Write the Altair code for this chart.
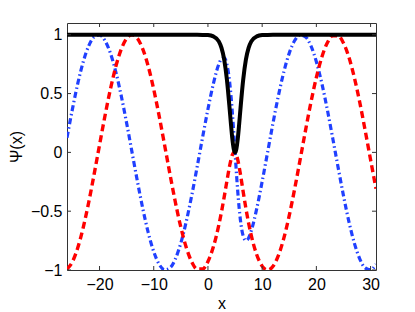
import altair as alt
import pandas as pd

x_vals = [-26, -25, -24, -23, -22, -21, -20, -19, -18, -17, -16, -15, -14, -13, -12,
          -11, -10, -9, -8, -7, -6, -5, -4, -3, -2, -1, 0, 1, 2, 2.5, 3, 3.5, 4,
          4.25, 4.5, 4.75, 5, 5.25, 5.5, 5.75, 6, 6.5, 7, 7.5, 8, 9, 10, 11, 12, 13,
          14, 15, 16, 17, 18, 19, 20, 21, 22, 23, 24, 25, 26, 27, 28, 29, 30, 31]

black_vals = [1.0, 1.0, 1.0, 1.0, 1.0, 1.0, 1.0, 1.0, 1.0, 1.0, 1.0, 1.0, 1.0, 1.0, 1.0,
              1.0, 1.0, 1.0, 1.0, 1.0, 1.0, 1.0, 1.0, 1.0, 1.0, 0.999, 0.997, 0.986, 0.944, 0.889, 0.789, 0.618, 0.371,
              0.236, 0.115, 0.031, 0.0, 0.031, 0.115, 0.236, 0.371, 0.618, 0.789, 0.889, 0.944, 0.986, 0.997, 0.999, 1.0, 1.0,
              1.0, 1.0, 1.0, 1.0, 1.0, 1.0, 1.0, 1.0, 1.0, 1.0, 1.0, 1.0, 1.0, 1.0, 1.0, 1.0, 1.0, 1.0]

red_vals = [-0.992, -0.930, -0.809, -0.637, -0.426, -0.187, 0.063, 0.309, 0.536, 0.729, 0.876, 0.969, 1.0, 0.969, 0.876,
            0.729, 0.536, 0.309, 0.063, -0.187, -0.426, -0.637, -0.809, -0.930, -0.992, -0.992, -0.928, -0.803, -0.619, -0.505, -0.378, -0.243, -0.114,
            -0.061, -0.021, 0.0, 0.0, -0.022, -0.064, -0.121, -0.188, -0.335, -0.476, -0.601, -0.708, -0.870, -0.967, -1.0, -0.969, -0.876,
            -0.729, -0.536, -0.309, -0.063, 0.187, 0.426, 0.637, 0.809, 0.930, 0.992, 0.992, 0.930, 0.809, 0.637, 0.426, 0.187, -0.063, -0.309]

blue_vals = [0.125, 0.368, 0.588, 0.771, 0.905, 0.982, 0.998, 0.951, 0.844, 0.685, 0.482, 0.249, 0.0, -0.249, -0.482,
             -0.685, -0.844, -0.951, -0.998, -0.982, -0.905, -0.771, -0.588, -0.368, -0.125, 0.125, 0.367, 0.584, 0.749, 0.796, 0.804, 0.747, 0.598,
             0.482, 0.339, 0.175, 0.0, -0.174, -0.333, -0.470, -0.579, -0.711, -0.750, -0.727, -0.665, -0.478, -0.248, 0.0, 0.249, 0.482,
             0.685, 0.844, 0.951, 0.998, 0.982, 0.905, 0.771, 0.588, 0.368, 0.125, -0.125, -0.368, -0.588, -0.771, -0.905, -0.982, -0.998, -0.951]

x_ticks = [-20, -10, 0, 10, 20, 30]
y_ticks = [-1, -0.5, 0, 0.5, 1]

W, H = 309, 247
FONT = "Liberation Sans"

df = pd.DataFrame({"x": x_vals, "black": black_vals, "red": red_vals, "blue": blue_vals})

xs = alt.Scale(domain=[-26, 31], nice=False, zero=False)
ys = alt.Scale(domain=[-1, 1.1], nice=False, zero=False)

xaxis = alt.Axis(values=x_ticks, format="~r", ticks=False, domain=False, grid=False, labelFont=FONT,
                 labelFontSize=16, labelColor="black", labelPadding=6, title="x",
                 titleFont=FONT, titleFontSize=16, titleFontWeight="normal", titleColor="black",
                 titlePadding=3)
yaxis = alt.Axis(values=y_ticks, format="~r", ticks=False, domain=False, grid=False, labelFont=FONT,
                 labelFontSize=16, labelColor="black", labelPadding=5, title="Ψ(x)",
                 titleFont=FONT, titleFontSize=16, titleFontWeight="normal", titleColor="black",
                 titlePadding=6)

base = alt.Chart(df)

blue = base.mark_line(color="#2040ff", strokeWidth=3.2, strokeDash=[6, 3, 1.5, 3],
                      interpolate="monotone", clip=True).encode(
    x=alt.X("x:Q", scale=xs, axis=xaxis),
    y=alt.Y("blue:Q", scale=ys, axis=yaxis),
)
red = base.mark_line(color="#ff0000", strokeWidth=3.4, strokeDash=[7, 4],
                     interpolate="monotone", clip=True).encode(
    x=alt.X("x:Q", scale=xs),
    y=alt.Y("red:Q", scale=ys),
)
black = base.mark_line(color="black", strokeWidth=4, interpolate="monotone", clip=True).encode(
    x=alt.X("x:Q", scale=xs),
    y=alt.Y("black:Q", scale=ys),
)

xt = alt.Chart(pd.DataFrame({"t": x_ticks}))
yt = alt.Chart(pd.DataFrame({"t": y_ticks}))
tick_color = "#333333"
bot = xt.mark_rule(color=tick_color, strokeWidth=1).encode(
    x=alt.X("t:Q", scale=xs), y=alt.value(H), y2=alt.value(H - 4))
top = xt.mark_rule(color=tick_color, strokeWidth=1).encode(
    x=alt.X("t:Q", scale=xs), y=alt.value(0), y2=alt.value(4))
left = yt.mark_rule(color=tick_color, strokeWidth=1).encode(
    y=alt.Y("t:Q", scale=ys), x=alt.value(0), x2=alt.value(4))
right = yt.mark_rule(color=tick_color, strokeWidth=1).encode(
    y=alt.Y("t:Q", scale=ys), x=alt.value(W), x2=alt.value(W - 4))

chart = alt.layer(blue, red, black, bot, top, left, right).properties(
    width=W, height=H,
    autosize=alt.AutoSizeParams(type="none"),
    padding={"left": 59, "top": 15, "right": 30, "bottom": 40},
    background="white",
).configure_view(stroke="#333333", strokeWidth=1)

chart.save("out.html", embed_options={"renderer": "svg", "actions": False})
